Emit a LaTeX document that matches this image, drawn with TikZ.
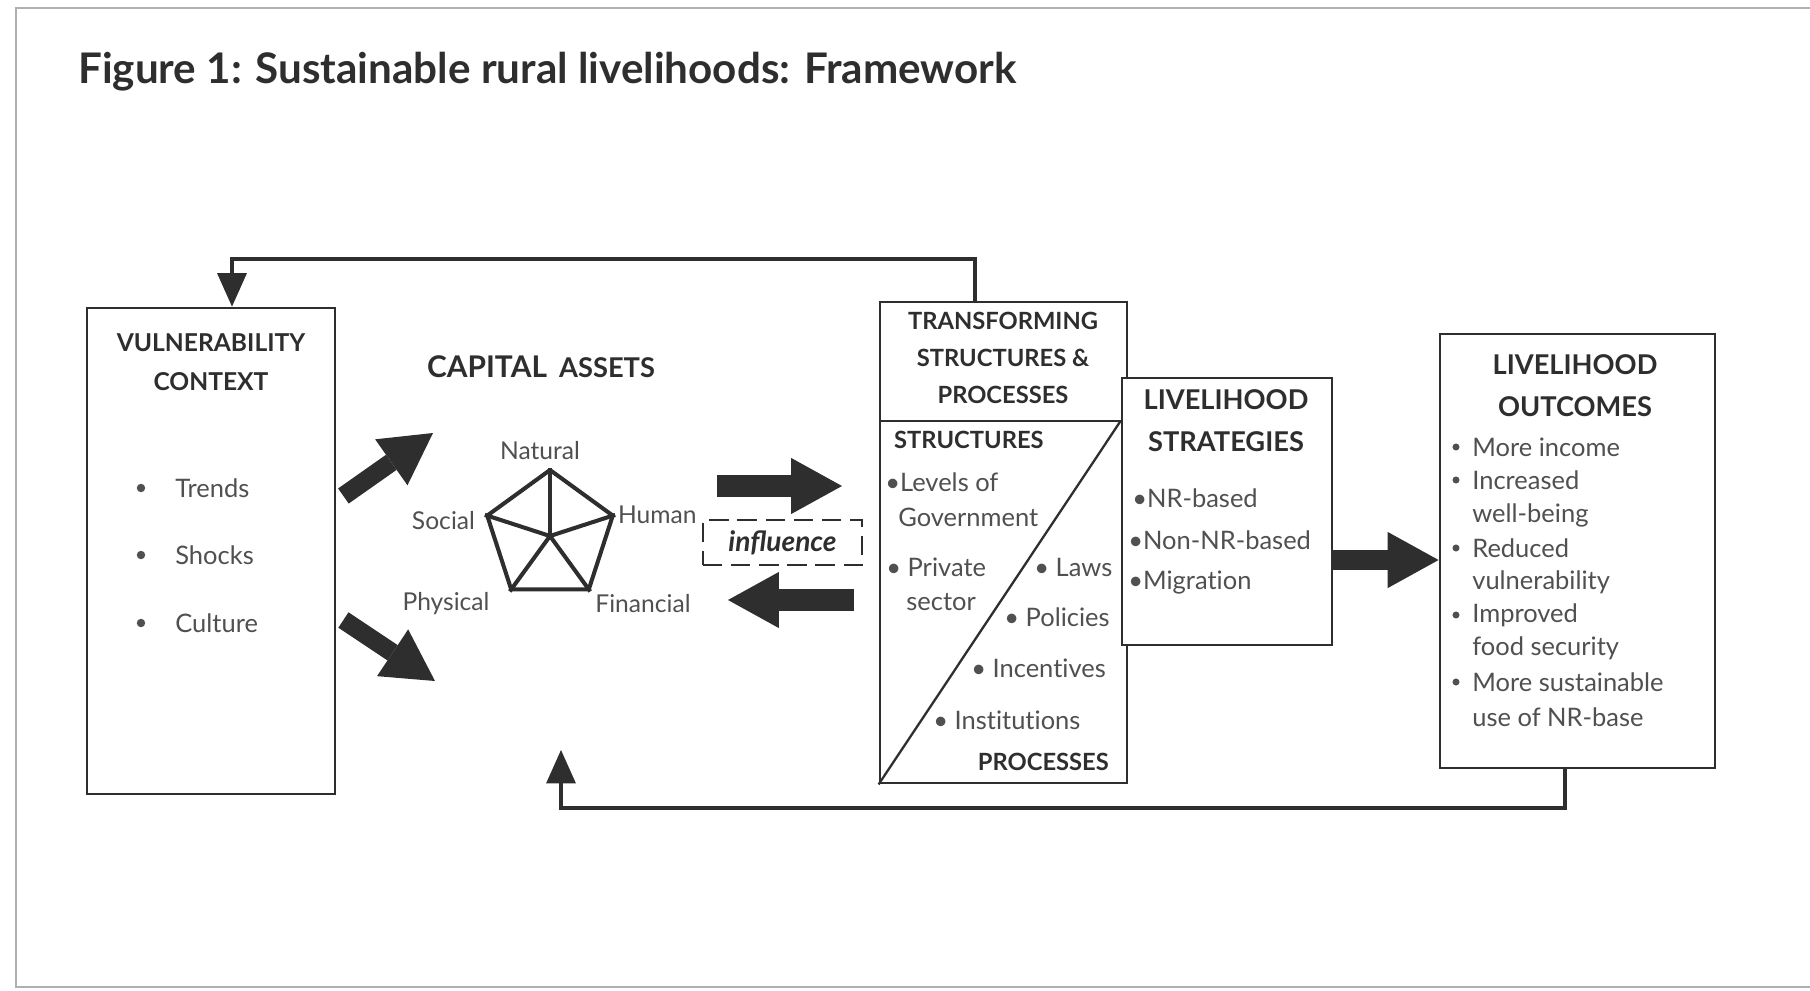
\documentclass[tikz,border=0pt]{standalone}
\usepackage{fontspec}
\setmainfont[Ligatures=NoCommon]{Lato}
\newfontfamily\inffont{Lato}
\usetikzlibrary{arrows.meta,shapes.geometric}

\definecolor{ink}{HTML}{2E2E2E}
\definecolor{txt}{HTML}{505050}
\definecolor{frameline}{HTML}{B0B0B0}

\tikzset{
  box/.style={draw=ink, line width=1.6pt, fill=white, inner sep=0pt},
  head/.style={font=\bfseries\fontsize{14}{22}\selectfont, text=ink, align=center},
  item/.style={font=\fontsize{14.5}{19}\selectfont, text=txt, anchor=west, inner sep=0pt},
  lbl/.style={font=\fontsize{14}{17}\selectfont, text=txt, inner sep=1pt},
  fat/.style={draw=ink, line width=12pt, -{Triangle[length=29pt,width=32pt,line width=0pt]}},
  feed/.style={draw=ink, line width=2.6pt, -{Triangle[length=19pt,width=17pt,line width=0pt]}},
  pent/.style={draw=ink, line width=2.3pt, line join=round},
}

\begin{document}
\begin{tikzpicture}[x=0.2mm, y=-0.2mm]
  \useasboundingbox (0,0) rectangle (1810,991);
  \draw[frameline, line width=1pt] (1810,8) -- (16,8) -- (16,987) -- (1810,987);

  \node[anchor=west, text=ink, font=\bfseries\fontsize{24}{28}\selectfont] (title) at (72,72)
    {Figure 1: Sustainable rural livelihoods: Framework};

  % the four boxes
  \node[box, minimum width=49.6mm, minimum height=97.2mm] (vul) at (211,551) {};
  \node[box, minimum width=49.4mm, minimum height=96.2mm] (trans) at (1003.5,542.5) {};
  \node[box, minimum width=42mm, minimum height=53.4mm] (strat) at (1227,511.5) {};
  \node[box, minimum width=55mm, minimum height=86.8mm] (out) at (1577.5,551) {};

  % vulnerability context
  \node[head] at (211,362) {VULNERABILITY\\CONTEXT};
  \foreach \t/\y in {Trends/488, Shocks/555, Culture/623} {
    \fill[txt] (141,\y) circle (2.4pt);
    \node[item] at (175,\y) {\t};
  }

  % capital assets pentagon
  \node[text=ink, font=\bfseries\fontsize{17}{20}\selectfont] (cap) at (541,367)
    {CAPITAL\, {\fontsize{15.5}{20}\selectfont ASSETS}};
  \node[regular polygon, regular polygon sides=5, minimum size=26.4mm, inner sep=0pt, pent] (pen) at (550,536) {};
  \foreach \i in {1,...,5}
    \draw[pent] (pen.center) -- (pen.corner \i);
  \node[lbl] (natural) at (540,451) {Natural};
  \node[lbl, anchor=east] (social) at (477,521) {Social};
  \node[lbl, anchor=west] (human) at (616,515) {Human};
  \node[lbl] (physical) at (446,604) {Physical};
  \node[lbl] (financial) at (643,604) {Financial};

  \node[draw=ink, line width=1.1pt, dash pattern=on 11pt off 5pt, minimum width=31.8mm, minimum height=9mm,
        text=ink, font=\inffont\bfseries\itshape\fontsize{16}{18}\selectfont] (inf) at (782.5,542.5) {influence};

  % transforming structures and processes
  \node[head, font=\bfseries\fontsize{13.5}{21}\selectfont] at (1003,358) {TRANSFORMING\\STRUCTURES \&\\PROCESSES};
  \draw[ink, line width=1.6pt] (trans.west |- 0,421) -- (trans.east |- 0,421);
  \draw[ink, line width=1.3pt] (trans.south west) -- (strat.west |- 0,421);
  \node[head, anchor=west, font=\bfseries\fontsize{13.5}{16}\selectfont] at (888,440) {STRUCTURES};
  \node[item] at (885,482) {\textbullet Levels of};
  \node[item] at (898,517) {Government};
  \node[item] at (886,567) {\textbullet\ Private};
  \node[item] at (906,602) {sector};
  \node[item] at (1034,567) {\textbullet\ Laws};
  \node[item] at (1004,617) {\textbullet\ Policies};
  \node[item] at (971,668) {\textbullet\ Incentives};
  \node[item] at (933,720) {\textbullet\ Institutions};
  \node[head, anchor=east, font=\bfseries\fontsize{13.5}{16}\selectfont] at (1115,762) {PROCESSES};

  % livelihood strategies
  \node[box, minimum width=42mm, minimum height=53.4mm] at (strat) {};
  \node[head, font=\bfseries\fontsize{15.5}{24}\selectfont] at (1226,421) {LIVELIHOOD\\STRATEGIES};
  \node[item] at (1132,498) {\textbullet NR-based};
  \node[item] at (1128,540) {\textbullet Non-NR-based};
  \node[item] at (1128,583) {\textbullet Migration};

  % livelihood outcomes
  \node[head, font=\bfseries\fontsize{15.5}{24}\selectfont] at (1575,386) {LIVELIHOOD\\OUTCOMES};
  \foreach \t/\y in {More income/447, Increased/480, Reduced/548, Improved/615, More sustainable/682} {
    \fill[txt] (1456,\y) circle (2pt);
    \node[item] at (1472,\y) {\t};
  }
  \foreach \t/\y in {well-being/515, vulnerability/582, food security/648, use of NR-base/717}
    \node[item] at (1472,\y) {\t};

  % connectors
  \coordinate (up) at (433,433);
  \coordinate (down) at (435,681);
  \coordinate (tostruct) at (842,486);
  \coordinate (fromstruct) at (854,600);
  \coordinate (fbtop) at (975,259);
  \coordinate (fbbot) at (1565,808);
  \coordinate (capback) at (561,750);

  \draw[fat, line width=10.5pt] ([xshift=1.4mm,yshift=11mm]vul.east) -- (up);
  \draw[fat, line width=10.5pt] ([xshift=1.4mm,yshift=-13.8mm]vul.east) -- (down);
  \draw[fat] (tostruct -| 717,0) -- (tostruct);
  \draw[fat] (fromstruct) -- (fromstruct -| 728,0);
  \draw[fat, line width=11pt] (strat.east |- 0,560) -- (out.west |- 0,560);

  \draw[feed] (trans.north -| fbtop) -- (fbtop) -| ([xshift=4.2mm]vul.north);
  \draw[feed] (out.south -| fbbot) -- (fbbot) -| (capback);
\end{tikzpicture}
\end{document}
